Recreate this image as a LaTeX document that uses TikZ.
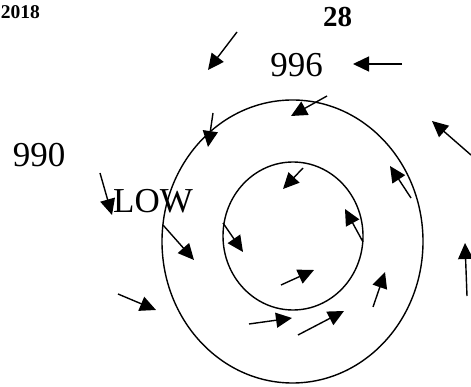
\documentclass[tikz,border=0pt]{standalone}
\usepackage{fontspec}
\setmainfont{Liberation Serif}
\usetikzlibrary{arrows.meta}
\begin{document}
\begin{tikzpicture}[x=1pt,y=-1pt,
  wind/.style={line width=1.4pt,-{Triangle[length=16pt,width=15pt]}},
  ring/.style={line width=1.4pt},
  lbl/.style={inner sep=0pt,anchor=base}]
\useasboundingbox (0,0) rectangle (471,387);
% isobars
\draw[ring] (292.5,241.5) ellipse [x radius=130.5, y radius=141.5];
\draw[ring] (293,236) ellipse [x radius=70, y radius=74];
% labels
\node[lbl,anchor=base east] (yr) at (40,19) {\fontsize{19.5}{22}\selectfont\bfseries 2018};
\node[lbl] (pg) at (337.5,27) {\fontsize{29}{32}\selectfont\bfseries 28};
\node[lbl] (p996) at (296.5,77) {\fontsize{35}{40}\selectfont 996};
\node[lbl] (p990) at (39,167) {\fontsize{35}{40}\selectfont 990};
\node[lbl,anchor=base west] (low) at (113,213) {\fontsize{35}{40}\selectfont LOW};
% wind arrows
\foreach \i/\ax/\ay/\bx/\by in {
  1/237/32/208/70,
  2/213/113/208/147,
  3/402/64/353/64,
  4/327/96/291/116,
  5/471/155/432/121,
  6/303/168/283/189,
  7/411/198/390/166,
  8/100/173/112/215,
  9/163/225/194/260,
  10/118/294/156/310,
  11/223/223/243/252,
  12/363/242/345/209,
  13/281/285/314/270,
  14/249/324/292/318,
  15/298/335/344/311,
  16/373/307/385/272,
  17/467/296/465/243}{
  \coordinate (t\i) at (\ax,\ay);
  \coordinate (h\i) at (\bx,\by);
  \draw[wind] (t\i) -- (h\i);
}
\end{tikzpicture}
\end{document}
